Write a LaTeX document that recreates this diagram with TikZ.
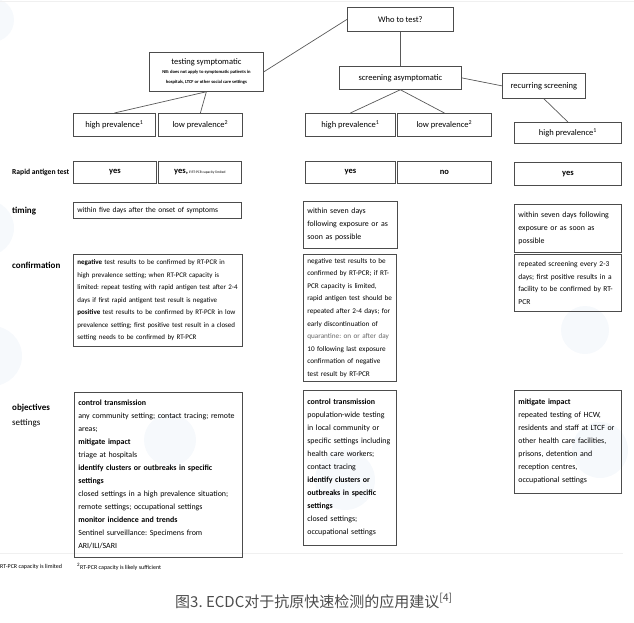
\documentclass[tikz,border=0pt]{standalone}
\usepackage{fontspec}
\setmainfont{Carlito}
\newfontfamily\cjk{Noto Sans CJK SC}
\usetikzlibrary{calc}
\frenchspacing
\newcommand{\bodyfont}{\fontsize{7.5}{12.5}\selectfont}
\newcommand{\objfont}{\fontsize{7.9}{13}\selectfont}
\newcommand{\headfont}{\fontsize{8.5}{10}\selectfont}
\newcommand{\rowfont}{\fontsize{9}{11}\selectfont\bfseries}
\newcommand{\nbfont}{\fontsize{4.6}{5.6}\selectfont\bfseries}
\tikzset{
  cbox/.style={draw=black!70, line width=.75pt, anchor=north west, inner sep=0pt, align=center, font=\headfont},
  tbox/.style={draw=black!70, line width=.75pt, anchor=north west, align=left, inner xsep=4pt, inner ysep=2pt, font=\bodyfont},
  link/.style={black!65, line width=.7pt},
  rowlabel/.style={anchor=west, inner sep=0pt, font=\rowfont},
  blob/.style={fill=cyan!40!blue, opacity=.04}
}
\begin{document}
\begin{tikzpicture}[x=1pt,y=-1pt]
\useasboundingbox (0,0) rectangle (634,623);

% faint background blobs
\fill[blob] (-8,20) circle (22);
\fill[blob] (-14,228) circle (28);
\fill[blob] (-8,356) circle (30);
\fill[blob] (170,440) circle (26);
\fill[blob] (585,330) circle (24);
\fill[blob] (600,450) circle (28);
\fill[blob] (345,480) circle (30);
\draw[black!6] (0,1) -- (634,1);
\draw[black!6] (0,553) -- (623,553);

% tree of who to test
\node[cbox, minimum width=106, minimum height=24] (who) at (347,7) {Who to test?};
\node[cbox, minimum width=114, minimum height=39] (sympt) at (149,52) {testing symptomatic\\[-1pt]\nbfont NB: does not apply to symptomatic patients in\\\nbfont hospitals, LTCF or other social care settings};
\node[cbox, minimum width=122, minimum height=23] (asym) at (339,66) {screening asymptomatic};
\node[cbox, minimum width=83, minimum height=25] (recur) at (502,73) {recurring screening};

\node[cbox, minimum width=82, minimum height=23] (hpL) at (73,113) {high prevalence\textsuperscript{1}};
\node[cbox, minimum width=84, minimum height=23] (lpL) at (158,113) {low prevalence\textsuperscript{2}};
\node[cbox, minimum width=90, minimum height=23] (hpM) at (305,113) {high prevalence\textsuperscript{1}};
\node[cbox, minimum width=94, minimum height=23] (lpM) at (397,113) {low prevalence\textsuperscript{2}};
\node[cbox, minimum width=107, minimum height=21] (hpR) at (514,122) {high prevalence\textsuperscript{1}};

\draw[link] (who.west) -- (sympt.east);
\draw[link] (who.south) -- (asym.north);
\draw[link] (asym.east) -- (recur.west);
\draw[link] (sympt.south) -- (hpL.north);
\draw[link] (sympt.south) -- (lpL.north);
\draw[link] (asym.south) -- (hpM.north);
\draw[link] (asym.south) -- (lpM.north);
\draw[link] (recur.south) -- (hpR.north);

% row labels
\node[rowlabel, font=\fontsize{7.6}{9}\selectfont\bfseries] (rat) at (12,172) {Rapid antigen test};
\node[rowlabel] (tim) at (12,211) {timing};
\node[rowlabel] (conf) at (12,265) {confirmation};
\node[rowlabel] (obj) at (12,408) {objectives};
\node[rowlabel, font=\fontsize{9}{11}\selectfont] (sett) at (12,423) {settings};

% rapid antigen test
\node[cbox, minimum width=83, minimum height=22, font=\headfont\bfseries] (yesL) at (73,161) {yes};
\node[cbox, minimum width=83, minimum height=22, font=\headfont\bfseries] (yesifL) at (158,161) {yes,{\fontsize{3.6}{4}\selectfont\mdseries\ if RT-PCR capacity limited}};
\node[cbox, minimum width=90, minimum height=22, font=\headfont\bfseries] (yesM) at (305,161) {yes};
\node[cbox, minimum width=94, minimum height=22, font=\headfont\bfseries] (noM) at (397,161) {no};
\node[cbox, minimum width=107, minimum height=23, font=\headfont\bfseries] (yesR) at (514,162) {yes};

% timing
\node[tbox, text width=160, minimum height=16] (timL) at (73,202) {within five days after the onset of symptoms};
\node[tbox, text width=86, minimum height=47, font=\fontsize{7.9}{13}\selectfont] (timM) at (303,201) {within seven days\\following exposure or as\\soon as possible};
\node[tbox, text width=99, minimum height=48, font=\fontsize{7.9}{13}\selectfont] (timR) at (514,204) {within seven days following\\exposure or as soon as\\possible};

% confirmation
\node[tbox, text width=161, minimum height=92, font=\fontsize{7}{12.5}\selectfont] (confL) at (73,254) {\textbf{negative} test results to be confirmed by RT-PCR in\\high prevalence setting; when RT-PCR capacity is\\limited: repeat testing with rapid antigen test after 2-4\\days if first rapid antigent test result is negative\\\textbf{positive} test results to be confirmed by RT-PCR in low\\prevalence setting; first positive test result in a closed\\setting needs to be confirmed by RT-PCR};
\node[tbox, text width=85, minimum height=127, font=\fontsize{7.2}{12.6}\selectfont] (confM) at (303,254) {negative test results to be\\confirmed by RT-PCR; if RT-\\PCR capacity is limited,\\rapid antigen test should be\\repeated after 2-4 days; for\\early discontinuation of\\{\color{black!60}quarantine: on or after day}\\10 following last exposure\\confirmation of negative\\test result by RT-PCR};
\node[tbox, text width=99, minimum height=57] (confR) at (514,254) {repeated screening every 2-3\\days; first positive results in a\\facility to be confirmed by RT-\\PCR};

% objectives and settings
\node[tbox, text width=160, minimum height=165, font=\objfont] (objL) at (74,392) {\textbf{control transmission}\\any community setting; contact tracing; remote\\areas;\\\textbf{mitigate impact}\\triage at hospitals\\\textbf{identify clusters or outbreaks in specific}\\\textbf{settings}\\closed settings in a high prevalence situation;\\remote settings; occupational settings\\\textbf{monitor incidence and trends}\\Sentinel surveillance: Specimens from\\ARI/ILI/SARI};
\node[tbox, text width=85, minimum height=155, font=\objfont] (objM) at (303,390) {\textbf{control transmission}\\population-wide testing\\in local community or\\specific settings including\\health care workers;\\contact tracing\\\textbf{identify clusters or}\\\textbf{outbreaks in specific}\\\textbf{settings}\\closed settings;\\occupational settings};
\node[tbox, text width=99, minimum height=103, font=\objfont] (objR) at (514,390) {\textbf{mitigate impact}\\repeated testing of HCW,\\residents and staff at LTCF or\\other health care facilities,\\prisons, detention and\\reception centres,\\occupational settings};

% footnotes and caption
\node[anchor=west, inner sep=0pt, font=\fontsize{6}{7}\selectfont] (fn1) at (0,567) {RT-PCR capacity is limited};
\node[anchor=west, inner sep=0pt, font=\fontsize{6}{7}\selectfont] (fn2) at (77,567) {\textsuperscript{2}RT-PCR capacity is likely sufficient};
\node[font=\cjk\fontsize{15}{17}\selectfont, text=black!70, inner sep=0pt] (cap) at (314,601) {图3. ECDC对于抗原快速检测的应用建议\textsuperscript{[4]}};

\end{tikzpicture}
\end{document}
